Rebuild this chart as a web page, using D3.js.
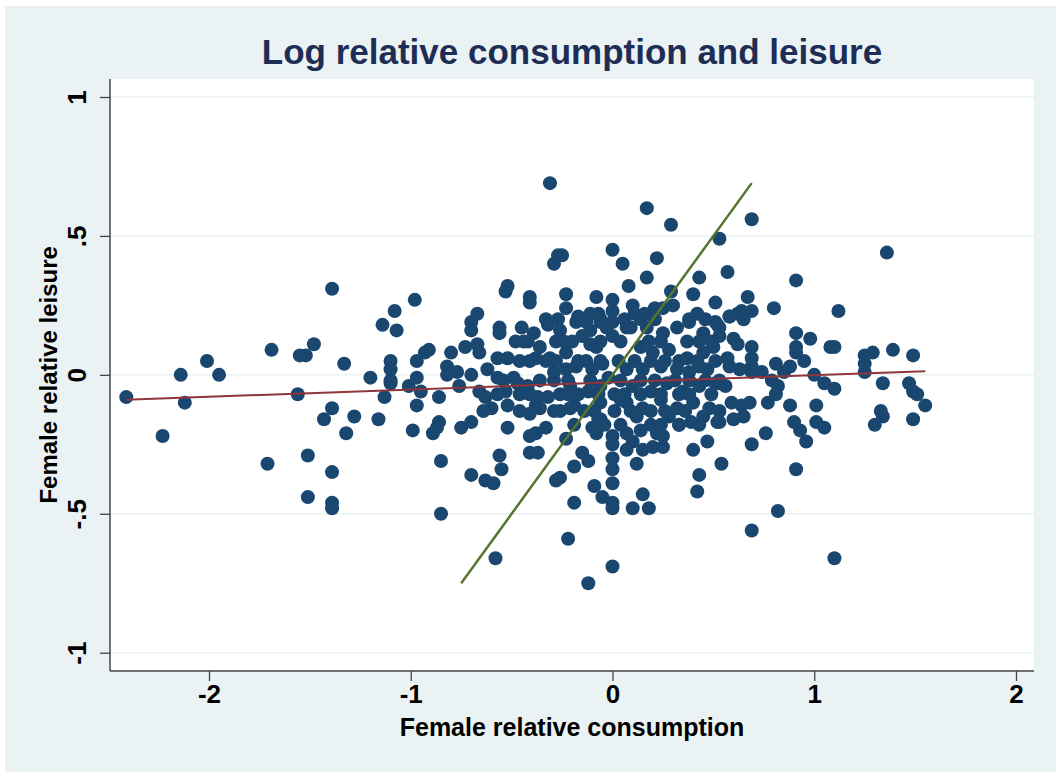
<!DOCTYPE html>
<html>
<head>
<meta charset="utf-8">
<script src="https://cdn.jsdelivr.net/npm/d3@7"></script>
<style>
  body { margin: 0; background: #fff; }
  text { font-family: "Liberation Sans", Arial, sans-serif; }
</style>
</head>
<body>
<svg></svg>
<script>
var width = 1056;
var height = 773;

// [consumption, leisure]
var points = [
  [-1.39,0.31],[-1.08,0.23],[-1.14,0.18],[-1.07,0.16],[-1.48,0.11],[-1.69,0.09],[-1.55,0.07],[-1.52,0.07],
  [-2.01,0.05],[-2.14,0.00],[-1.95,0.00],[-1.33,0.04],[-1.20,-0.01],[-1.10,0.05],[-1.10,0.02],[-1.10,-0.02],
  [-1.10,-0.03],[-1.13,-0.08],[-2.41,-0.08],[-2.12,-0.10],[-1.56,-0.07],[-1.39,-0.12],[-1.43,-0.16],[-1.28,-0.15],
  [-1.16,-0.16],[-1.32,-0.21],[-2.23,-0.22],[-1.51,-0.29],[-1.71,-0.32],[-1.39,-0.35],[-1.51,-0.44],[-1.39,-0.46],
  [-1.39,-0.48],
  [-0.31,0.69],[-0.29,0.40],[-0.27,0.43],[-0.52,0.32],[-0.53,0.30],[-0.41,0.28],[-0.41,0.26],[-0.98,0.27],
  [-0.67,0.22],[-0.70,0.19],[-0.56,0.17],
  [0.17,0.60],[0.29,0.54],[0.53,0.49],[-0.25,0.43],[0.00,0.45],[0.05,0.40],[0.22,0.42],[0.57,0.37],[0.17,0.35],
  [0.43,0.35],[0.08,0.32],[0.29,0.30],[0.40,0.29],[0.51,0.26],[-0.23,0.29],[-0.08,0.28],[0.00,0.27],[-0.23,0.24],
  [-0.17,0.21],[-0.11,0.22],[-0.07,0.22],[0.00,0.23],[0.10,0.25],[0.11,0.22],[0.16,0.22],[0.21,0.24],[0.25,0.24],
  [0.30,0.25],[0.42,0.22],[0.51,0.19],[0.58,0.21],[0.62,0.22],[0.38,0.19],[0.00,0.19],[0.07,0.17],[0.17,0.17],
  [0.69,0.56],[1.36,0.44],[0.91,0.34],[0.67,0.28],[0.80,0.24],[1.12,0.23],[0.58,0.21],[0.64,0.23],[0.69,0.23],
  [0.65,0.20],[0.53,0.17],[0.53,0.14],[0.91,0.15],[0.98,0.13],[1.08,0.10],[1.10,0.10],[0.60,0.13],[0.62,0.11],
  [0.69,0.10],[0.91,0.10],[0.91,0.08],[1.25,0.07],[1.29,0.08],[1.39,0.09],[1.49,0.07],[1.25,0.04],[1.25,0.01],
  [0.57,0.06],[0.58,0.03],[0.63,0.02],[0.69,0.06],[0.69,0.03],[0.69,0.01],[0.81,0.04],[0.88,0.03],[0.95,0.05],
  [0.74,0.01],[0.79,-0.02],[0.85,0.01],[1.00,0.00],[1.05,-0.03],[1.10,-0.05],[1.34,-0.03],[1.47,-0.03],[1.49,-0.06],
  [1.51,-0.07],[1.55,-0.11],[0.53,-0.03],[0.56,-0.04],[0.82,-0.04],[0.81,-0.07],[0.77,-0.10],[0.68,-0.10],[0.59,-0.10],
  [0.64,-0.11],[0.88,-0.11],[1.01,-0.11],[0.53,-0.17],[0.60,-0.16],[0.65,-0.15],[0.90,-0.17],[0.93,-0.20],[0.96,-0.24],
  [1.01,-0.17],[1.05,-0.19],[1.33,-0.13],[1.34,-0.15],[1.30,-0.18],[1.49,-0.16],[0.76,-0.21],[0.69,-0.25],[0.54,-0.32],
  [0.91,-0.34],[1.10,-0.66],[0.82,-0.49],[0.69,-0.56],
  [-0.99,-0.20],[-0.89,-0.21],[-0.87,-0.19],[-0.86,-0.17],[-0.75,-0.19],[-0.70,-0.17],[-0.52,-0.19],[-0.85,-0.31],
  [-0.56,-0.29],[-0.55,-0.34],[-0.70,-0.36],[-0.63,-0.38],[-0.59,-0.39],[-0.41,-0.22],[-0.38,-0.21],[-0.33,-0.19],
  [-0.41,-0.28],[-0.37,-0.28],[-0.28,-0.38],[-0.23,-0.23],[-0.85,-0.50],[-0.58,-0.66],[-0.22,-0.59],
  [-0.15,-0.28],[-0.12,-0.31],[-0.19,-0.33],[-0.26,-0.37],[-0.09,-0.40],[-0.05,-0.44],[-0.19,-0.46],[0.00,-0.22],
  [0.00,-0.25],[0.00,-0.30],[0.00,-0.34],[0.00,-0.39],[0.00,-0.46],[0.00,-0.48],[-0.08,-0.21],[-0.10,-0.19],
  [-0.06,-0.16],[0.07,-0.21],[0.10,-0.24],[0.07,-0.27],[0.15,-0.27],[0.20,-0.26],[0.25,-0.26],[0.25,-0.22],
  [0.14,-0.20],[0.19,-0.18],[0.22,-0.21],[0.12,-0.32],[0.15,-0.43],[0.10,-0.48],[0.18,-0.48],[0.00,-0.69],
  [-0.12,-0.75],[0.33,-0.18],[0.39,-0.17],[0.52,-0.17],[0.47,-0.24],[0.40,-0.27],[0.43,-0.36],[0.42,-0.42],
  [-0.97,0.05],[-0.93,0.08],[-0.91,0.09],[-0.80,0.08],[-0.73,0.10],[-0.67,0.11],[-0.66,0.08],[-0.57,0.06],
  [-0.52,0.06],[-0.82,0.03],[-0.97,-0.01],[-1.01,-0.04],[-0.95,-0.06],[-0.82,0.00],[-0.77,0.01],[-0.70,0.00],
  [-0.76,-0.04],[-0.62,0.02],[-0.57,-0.01],[-0.54,-0.02],[-0.49,-0.01],[-0.86,-0.08],[-0.66,-0.06],[-0.63,-0.08],
  [-0.57,-0.07],[-0.60,-0.12],[-0.64,-0.13],[-0.52,-0.11],[-0.97,-0.11],[-0.47,-0.03],[-0.48,0.12],[-0.56,0.15],
  [-0.70,0.16],
  [-0.44,0.12],[-0.36,0.10],[-0.38,0.06],[-0.41,0.05],[-0.31,0.06],[-0.28,0.05],[-0.23,0.08],[-0.20,0.12],
  [-0.15,0.14],[-0.11,0.16],[-0.18,0.19],[-0.13,0.19],[-0.06,0.19],[-0.03,0.17],[0.00,0.14],[-0.08,0.10],
  [-0.13,0.05],[-0.18,0.03],[-0.23,0.02],[-0.10,0.02],[-0.05,0.04],[-0.42,-0.04],[-0.37,-0.08],[-0.32,-0.08],
  [-0.26,-0.07],[-0.21,-0.04],[-0.17,-0.07],[-0.12,-0.06],[-0.06,-0.04],[-0.02,-0.01],[-0.36,-0.12],[-0.29,-0.13],
  [-0.21,-0.12],[-0.06,-0.10],[-0.41,-0.14],[-0.45,0.17],[-0.39,0.15],
  [0.09,0.17],[0.25,0.15],[0.32,0.17],[0.37,0.12],[0.45,0.15],[0.52,0.18],[0.14,0.10],[0.20,0.08],
  [0.28,0.09],[0.37,0.06],[0.45,0.08],[0.50,0.10],[0.07,0.02],[0.15,0.02],[0.24,0.03],[0.32,0.02],
  [0.38,0.01],[0.47,0.02],[0.10,-0.04],[0.19,-0.06],[0.27,-0.03],[0.35,-0.06],[0.43,-0.04],[0.51,-0.03],
  [0.07,-0.10],[0.15,-0.12],[0.24,-0.09],[0.32,-0.12],[0.40,-0.10],[0.48,-0.12],[0.12,-0.15],[0.28,-0.15],
  [0.45,-0.15],
  // dense middle of the cloud
  [-0.33,0.20],[-0.27,0.20],[-0.06,0.20],[0.06,0.20],[0.14,0.20],[0.38,0.20],[0.46,0.20],
  [-0.42,0.12],[-0.28,0.12],[-0.24,0.12],[-0.06,0.12],[0.04,0.12],[0.18,0.12],[0.24,0.12],[0.43,0.12],[0.49,0.12],
  [-0.46,0.05],[-0.33,0.05],[-0.17,0.05],[-0.06,0.05],[0.03,0.05],[0.11,0.05],[0.19,0.05],[0.26,0.05],[0.33,0.05],
  [0.42,0.05],[0.51,0.05],
  [-0.36,-0.02],[-0.29,-0.02],[-0.22,-0.02],[-0.11,-0.02],[0.04,-0.02],[0.14,-0.02],[0.21,-0.02],[0.31,-0.02],
  [0.38,-0.02],[0.46,-0.02],[0.53,-0.02],
  [-0.46,-0.07],[-0.41,-0.07],[-0.22,-0.07],[-0.07,-0.07],[0.01,-0.07],[0.06,-0.07],[0.14,-0.07],[0.24,-0.07],
  [0.38,-0.07],[0.49,-0.07],
  [-0.46,-0.13],[-0.26,-0.13],[-0.14,-0.13],[-0.09,-0.13],[0.01,-0.13],[0.09,-0.13],[0.19,-0.13],[0.26,-0.13],
  [0.36,-0.13],[0.53,-0.13],
  [-0.19,-0.18],[-0.04,-0.18],[0.04,-0.18],[0.24,-0.18],[0.33,-0.18],[0.43,-0.18],
  [-0.26,0.16],[-0.32,0.18],[-0.11,0.11],[-0.29,0.01],[-0.19,-0.11],[-0.07,-0.16],[0.04,-0.09],[0.21,0.20],
  [0.33,-0.07],[0.43,0.03],[-0.38,-0.11],[-0.53,-0.06]
];

// linear fit (red)
var fitIntercept = -0.027;
var fitSlope = 0.026;

var xTicks = [-2, -1, 0, 1, 2];
var yTicks = [-1, -0.5, 0, 0.5, 1];
var yTickLabels = ["-1", "-.5", "0", ".5", "1"];

var title = "Log relative consumption and leisure";
var xTitle = "Female relative consumption";
var yTitle = "Female relative leisure";

var svg = d3.select("svg")
  .attr("width", width)
  .attr("height", height);

var plot = { left: 110, right: 1034, top: 79, bottom: 671 };

var x = d3.scaleLinear().domain([-2, 2]).range([209, 1016]);
var y = d3.scaleLinear().domain([-1, 1]).range([652.7, 97]);

// outer background
svg.append("rect")
  .attr("x", 5).attr("y", 6)
  .attr("width", width - 5).attr("height", height - 7)
  .attr("fill", "#eaf2f3");

svg.append("rect")
  .attr("x", plot.left).attr("y", plot.top)
  .attr("width", plot.right - plot.left).attr("height", plot.bottom - plot.top)
  .attr("fill", "#ffffff");

// grid
svg.append("g")
  .selectAll("line")
  .data(yTicks)
  .enter()
  .append("line")
    .attr("x1", plot.left).attr("x2", plot.right)
    .attr("y1", d => y(d)).attr("y2", d => y(d))
    .attr("stroke", "#eaf2f3")
    .attr("stroke-width", 1.5);

// points
svg.append("g")
  .selectAll("circle")
  .data(points)
  .enter()
  .append("circle")
    .attr("cx", d => x(d[0]))
    .attr("cy", d => y(d[1]))
    .attr("r", 7)
    .attr("fill", "#1a476f");

// fitted line over the range of consumption
var xExt = d3.extent(points, d => d[0]);
svg.append("line")
  .attr("x1", x(xExt[0])).attr("y1", y(fitIntercept + fitSlope * xExt[0]))
  .attr("x2", x(xExt[1])).attr("y2", y(fitIntercept + fitSlope * xExt[1]))
  .attr("stroke", "#90353b")
  .attr("stroke-width", 2);

// 45 degree line over the range of leisure
var yExt = d3.extent(points, d => d[1]);
svg.append("line")
  .attr("x1", x(yExt[0])).attr("y1", y(yExt[0]))
  .attr("x2", x(yExt[1])).attr("y2", y(yExt[1]))
  .attr("stroke", "#55752f")
  .attr("stroke-width", 2.5);

// axes
var xAxis = svg.append("g")
  .attr("transform", "translate(0," + plot.bottom + ")")
  .call(d3.axisBottom(x).tickValues(xTicks).tickSize(10).tickSizeOuter(0).tickFormat(d => String(d)));
xAxis.select(".domain").attr("d", "M" + plot.left + ",0H" + plot.right);

var yAxis = svg.append("g")
  .attr("transform", "translate(" + plot.left + ",0)")
  .call(d3.axisLeft(y).tickValues(yTicks).tickSize(10).tickSizeOuter(0)
    .tickFormat((d, i) => yTickLabels[i]));
yAxis.select(".domain").attr("d", "M0," + plot.top + "V" + plot.bottom);

svg.selectAll(".domain").attr("stroke", "#444").attr("stroke-width", 1.5);
svg.selectAll(".tick line").attr("stroke", "#444").attr("stroke-width", 1.3);

xAxis.selectAll("text")
  .attr("y", 14)
  .attr("font-size", 26)
  .attr("font-weight", "bold")
  .attr("fill", "#000");

yAxis.selectAll("text")
  .attr("x", 0).attr("y", 0).attr("dy", 0)
  .attr("transform", "translate(-24,0) rotate(-90)")
  .attr("text-anchor", "middle")
  .attr("font-size", 26)
  .attr("font-weight", "bold")
  .attr("fill", "#000");

svg.append("text")
  .attr("x", (plot.left + plot.right) / 2)
  .attr("y", 64)
  .attr("text-anchor", "middle")
  .attr("font-size", 35)
  .attr("font-weight", "bold")
  .attr("fill", "#1e2d55")
  .text(title);

svg.append("text")
  .attr("x", (plot.left + plot.right) / 2)
  .attr("y", 736)
  .attr("text-anchor", "middle")
  .attr("font-size", 25)
  .attr("font-weight", "bold")
  .attr("fill", "#000")
  .text(xTitle);

svg.append("text")
  .attr("transform", "translate(57," + y(0) + ") rotate(-90)")
  .attr("text-anchor", "middle")
  .attr("font-size", 24)
  .attr("font-weight", "bold")
  .attr("fill", "#000")
  .text(yTitle);
</script>
</body>
</html>
